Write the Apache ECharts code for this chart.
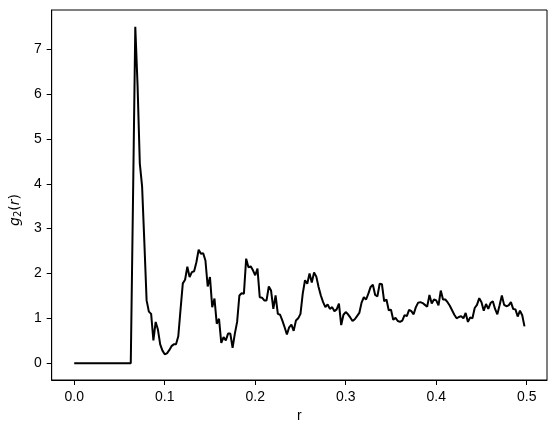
<!DOCTYPE html>
<html>
<head>
<meta charset="utf-8">
<script src="https://cdn.jsdelivr.net/npm/echarts@6/dist/echarts.min.js"></script>
<style>html,body{margin:0;padding:0;background:#fff}#c{width:557px;height:432px}</style>
</head>
<body>
<div id="c"></div>
<script>
// r values: bins of width 0.0025 from 0 to 0.4975
const step = 0.0025;
// g2(r) values
const g2Zero = [0,0,0,0,0,0,0,0,0,0,0,0,0,0,0,0,0,0,0,0,0,0,0,0,0,0]; // r = 0 .. 0.0625
const g2Peak1 = [3.7,7.5,6.2,4.45,3.95,2.7,1.4,1.15,1.1,0.51,0.92,0.75,0.42,0.28,0.2,0.22,0.29,0.38,0.42,0.42,0.6,1.2,1.78,1.86,2.15,1.92,2.03,2.05,2.25,2.53]; // r = 0.065 .. 0.1375
const g2Peak2 = [2.44,2.45,2.29,1.71,1.92,1.25,1.44,0.88,0.99,0.45,0.58,0.51,0.66,0.66,0.34,0.66,0.92,1.51,1.56,1.55,2.33,2.14,2.16,2.07,1.96,2.11,1.47,1.46,1.40,1.40,1.71,1.62,1.21,1.51,1.1,1.08,0.95,0.8,0.64,0.8,0.86,0.72,0.95,1.0,1.1]; // r = 0.14 .. 0.25
const g2Peak3 = [1.55,1.85,1.77,2.0,1.8,2.02,1.93,1.7,1.51,1.36,1.25,1.31,1.21,1.25,1.16,1.2,1.33,0.85,1.08,1.14,1.09,1.02,0.94,0.98,1.05,1.12,1.35,1.47,1.42,1.55,1.70,1.75,1.52,1.49,1.77,1.76,1.38,1.42,1.18,1.19,0.97,1.01,0.94,0.92,0.95,1.07,1.05,1.19,1.16,1.09,1.25,1.35,1.36,1.34,1.3,1.26]; // r = 0.2525 .. 0.39
const g2Tail = [1.52,1.33,1.42,1.40,1.29,1.62,1.42,1.42,1.36,1.28,1.18,1.08,1.0,1.03,1.05,1.0,1.12,0.92,1.02,1.0,1.23,1.3,1.45,1.36,1.17,1.32,1.21,1.34,1.38,1.21,1.09,1.29,1.51,1.3,1.27,1.29,1.36,1.21,1.2,1.04,1.17,1.07,0.82]; // r = 0.3925 .. 0.4975
const xTicks = [0, 0.1, 0.2, 0.3, 0.4, 0.5];
const yTicks = [0, 1, 2, 3, 4, 5, 6, 7];

const g2 = [].concat(g2Zero, g2Peak1, g2Peak2, g2Peak3, g2Tail);
const data = g2.map((v, i) => [+(i * step).toFixed(4), v]);
const rMax = (g2.length - 1) * step;
const yMaxData = Math.max.apply(null, g2);

const font = 'Liberation Sans, Arial, Helvetica, sans-serif';
const chart = echarts.init(document.getElementById('c'), null, {renderer: 'canvas'});
chart.setOption({
  animation: false,
  backgroundColor: '#fff',
  grid: {left: 51, right: 10, top: 10, bottom: 52, show: true, borderColor: '#000', borderWidth: 1, backgroundColor: 'transparent'},
  xAxis: {
    type: 'value',
    min: -0.05 * rMax,
    max: rMax * 1.05,
    name: 'r',
    nameLocation: 'middle',
    nameGap: 29,
    nameTextStyle: {color: '#000', fontSize: 14, fontFamily: font},
    axisLine: {show: true, onZero: false, lineStyle: {color: '#000', width: 1}},
    axisTick: {show: true, inside: false, length: 5, customValues: xTicks, lineStyle: {color: '#000', width: 1}},
    axisLabel: {show: true, margin: 10, customValues: xTicks, color: '#000', fontSize: 14, fontFamily: font, formatter: v => v.toFixed(1)},
    splitLine: {show: false}
  },
  yAxis: {
    type: 'value',
    min: -0.05 * yMaxData,
    max: yMaxData * 1.05,
    name: '{i|g}{s|2}{n|(}{i|r}{n|)}',
    nameLocation: 'middle',
    nameGap: 21,
    nameRotate: 90,
    nameTextStyle: {
      color: '#000', fontSize: 14, fontFamily: font,
      padding: [0, 30, 0, 0],
      rich: {
        i: {fontStyle: 'italic', fontSize: 14, fontFamily: 'DejaVu Sans, sans-serif', color: '#000'},
        s: {fontSize: 10, fontFamily: 'DejaVu Sans, sans-serif', color: '#000', verticalAlign: 'bottom', padding: [6, 0, 0, 0]},
        n: {fontSize: 14, fontFamily: 'DejaVu Sans, sans-serif', color: '#000'}
      }
    },
    axisLine: {show: true, onZero: false, lineStyle: {color: '#000', width: 1}},
    axisTick: {show: true, inside: false, length: 5, customValues: yTicks, lineStyle: {color: '#000', width: 1}},
    axisLabel: {show: true, margin: 10, customValues: yTicks, color: '#000', fontSize: 14, fontFamily: font},
    splitLine: {show: false}
  },
  series: [{
    type: 'line',
    data: data,
    showSymbol: false,
    symbol: 'none',
    lineStyle: {color: '#000', width: 2},
    itemStyle: {color: '#000'},
    silent: true
  }]
});
</script>
</body>
</html>
